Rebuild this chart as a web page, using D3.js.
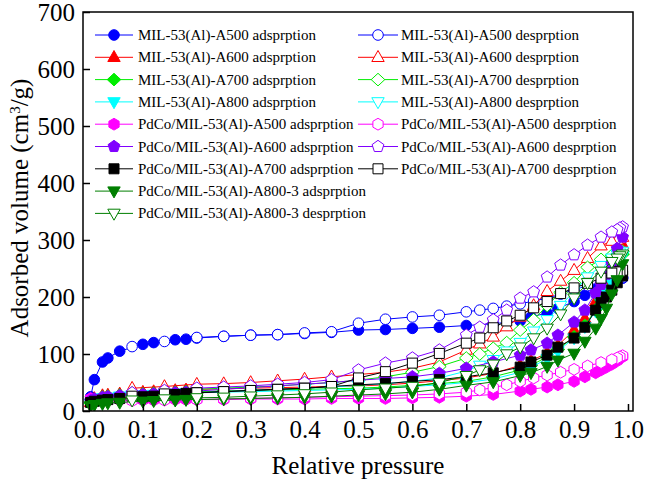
<!DOCTYPE html>
<html><head><meta charset="utf-8">
<script src="https://cdn.jsdelivr.net/npm/d3@7"></script>
<style>html,body{margin:0;padding:0;background:#fff;}svg{display:block;}
svg text{font-family:"Liberation Serif","Tinos","Times New Roman","DejaVu Serif",serif;}</style>
</head><body><div id="chart"></div>
<script>
// ---------------- data ----------------
const xTicks = [0.0, 0.1, 0.2, 0.3, 0.4, 0.5, 0.6, 0.7, 0.8, 0.9, 1.0];
const yTicks = [0, 100, 200, 300, 400, 500, 600, 700];

const pAds = [0.003, 0.01, 0.025, 0.035, 0.057, 0.1, 0.12, 0.16, 0.18, 0.2, 0.25, 0.3, 0.35, 0.4, 0.45,
  0.5, 0.55, 0.6, 0.65, 0.7, 0.75, 0.8, 0.82, 0.85, 0.87, 0.9, 0.92, 0.94, 0.95, 0.96, 0.97, 0.98, 0.99];
const pDes = [0.99, 0.985, 0.98, 0.97, 0.95, 0.925, 0.9, 0.875, 0.85, 0.825, 0.8, 0.775, 0.75, 0.725, 0.7,
  0.65, 0.6, 0.55, 0.5, 0.45, 0.4, 0.35, 0.3, 0.25, 0.2, 0.14, 0.08];

const samples = ["MIL-53(Al)-A500", "MIL-53(Al)-A600", "MIL-53(Al)-A700", "MIL-53(Al)-A800",
  "PdCo/MIL-53(Al)-A500", "PdCo/MIL-53(Al)-A600", "PdCo/MIL-53(Al)-A700", "PdCo/MIL-53(Al)-A800-3"];

const adsMIL500 = [25, 55, 86, 93, 105, 117, 120, 125, 126, 128, 131, 133, 134, 136, 138,
  142, 143, 145, 147, 150, 153, 158, 165, 172, 180, 192, 203, 213, 218, 223, 227, 230, 233];
const adsMIL600 = [15, 22, 27, 28, 30, 33, 34, 36, 37, 38, 39, 40, 41, 42, 43,
  44, 46, 49, 53, 58, 66, 80, 88, 102, 115, 142, 162, 192, 208, 225, 245, 268, 292];
const adsMIL700 = [14, 20, 25, 26, 28, 30, 31, 33, 34, 34, 35, 36, 37, 38, 39,
  40, 42, 45, 48, 52, 60, 72, 80, 95, 108, 130, 150, 178, 195, 212, 230, 252, 275];
const adsMIL800 = [13, 19, 23, 24, 26, 28, 29, 31, 32, 32, 33, 34, 35, 36, 37,
  38, 40, 43, 46, 50, 56, 68, 76, 92, 105, 128, 148, 175, 190, 208, 225, 248, 272];
const adsPd500 = [22, 20, 19, 19, 19, 19, 19, 20, 20, 20, 20, 21, 21, 21, 22,
  22, 22, 23, 24, 26, 29, 35, 38, 42, 46, 52, 60, 67, 72, 77, 82, 88, 95];
const adsPd600 = [18, 21, 24, 25, 27, 29, 30, 32, 33, 35, 38, 41, 44, 47, 50,
  54, 57, 60, 66, 75, 86, 98, 107, 119, 133, 156, 177, 207, 222, 240, 258, 285, 305];
const adsPd700 = [15, 17, 19, 20, 22, 25, 26, 29, 31, 32, 34, 36, 38, 40, 43,
  46, 48, 52, 55, 60, 67, 77, 86, 98, 112, 128, 147, 177, 190, 200, 212, 225, 237];
const adsPd800 = [9, 11, 13, 14, 15, 17, 18, 19, 20, 20, 21, 22, 23, 24, 26,
  28, 30, 33, 38, 45, 51, 62, 67, 78, 89, 101, 122, 145, 162, 180, 205, 230, 258];

const desMIL500 = [234, 233, 232, 230, 226, 220, 213, 205, 198, 193, 188, 184, 180, 177, 174,
  168, 165, 161, 154, 139, 137, 134, 133, 131, 129, 122, 113];
const desMIL600 = [305, 302, 300, 298, 290, 268, 247, 228, 210, 185, 165, 148, 130, 118, 107,
  86, 75, 68, 64, 60, 56, 53, 50, 48, 47, 43, 40];
const desMIL700 = [280, 278, 276, 273, 266, 252, 225, 208, 185, 160, 142, 120, 110, 100, 93,
  78, 68, 60, 54, 50, 47, 44, 42, 40, 38, 35, 32];
const desMIL800 = [280, 277, 274, 268, 255, 235, 210, 185, 160, 140, 120, 105, 90, 80, 70,
  58, 52, 48, 45, 42, 40, 38, 36, 34, 32, 30, 28];
const desPd500 = [97, 95, 93, 90, 85, 79, 73, 68, 63, 58, 52, 46, 41, 37, 33,
  30, 28, 27, 26, 25, 24, 23, 22, 21, 20, 19, 18];
const desPd600 = [323, 321, 318, 314, 305, 291, 274, 256, 235, 209, 198, 177, 160, 147, 133,
  107, 93, 84, 72, 55, 50, 47, 44, 42, 40, 36, 32];
const desPd700 = [247, 245, 244, 242, 233, 224, 216, 206, 192, 181, 168, 158, 146, 128, 119,
  101, 84, 69, 58, 43, 40, 38, 36, 34, 32, 30, 26];
const desPd800 = [275, 272, 268, 262, 245, 225, 198, 170, 145, 128, 112, 100, 82, 72, 62,
  50, 43, 40, 37, 33, 30, 28, 26, 24, 23, 21, 19];

const adsValues = [adsMIL500, adsMIL600, adsMIL700, adsMIL800, adsPd500, adsPd600, adsPd700, adsPd800];
const desValues = [desMIL500, desMIL600, desMIL700, desMIL800, desPd500, desPd600, desPd700, desPd800];
const colors = ["#0000ff", "#ff0000", "#00ee00", "#00ffff", "#ff00ff", "#8000ff", "#000000", "#007f00"];
const shapes = ["circle", "triUp", "diamond", "triDown", "hexagon", "pentagon", "square", "triDown"];

// ---------------- layout ----------------
const W = 645, H = 482;
const L = 83, R = 633, T = 12, B = 411;

const svg = d3.select("#chart").append("svg").attr("width", W).attr("height", H);
const x = d3.scaleLinear().domain([-0.0111, 1.0093]).range([L, R]);
const y = d3.scaleLinear().domain([0, 700]).range([B, T]);

function poly(n, r, rot) {
  const pts = [];
  for (let i = 0; i < n; i++) {
    const a = rot + i * 2 * Math.PI / n;
    pts.push([r * Math.cos(a), r * Math.sin(a)]);
  }
  return "M" + pts.map(p => p[0].toFixed(2) + "," + p[1].toFixed(2)).join("L") + "Z";
}
function shapePath(s) {
  switch (s) {
    case "circle": return "M5.3,0A5.3,5.3 0 1,1 -5.3,0A5.3,5.3 0 1,1 5.3,0Z";
    case "triUp": return "M0,-6.8L6.2,4.2L-6.2,4.2Z";
    case "triDown": return "M0,6.8L6.2,-4.2L-6.2,-4.2Z";
    case "diamond": return "M0,-6.3L6.8,0L0,6.3L-6.8,0Z";
    case "square": return "M-5,-5L5,-5L5,5L-5,5Z";
    case "pentagon": return poly(5, 6.2, -Math.PI / 2);
    case "hexagon": return poly(6, 5.9, -Math.PI / 2);
  }
}

svg.append("clipPath").attr("id", "clip").append("rect")
  .attr("x", L).attr("y", T).attr("width", R - L).attr("height", B - T);

const plot = svg.append("g").attr("clip-path", "url(#clip)");
const line = d3.line().x(d => x(d[0])).y(d => y(d[1]));

samples.forEach((name, i) => {
  const ads = pAds.map((p, k) => [p, adsValues[i][k]]);
  const des = pDes.map((p, k) => [p, desValues[i][k]]);
  [[ads, true], [des, false]].forEach(([data, filled]) => {
    const g = plot.append("g");
    g.append("path").datum(data).attr("d", line)
      .attr("fill", "none").attr("stroke", colors[i]).attr("stroke-width", 1);
    g.selectAll("path.m").data(data).enter().append("path").attr("class", "m")
      .attr("d", shapePath(shapes[i]))
      .attr("transform", d => `translate(${x(d[0])},${y(d[1])})`)
      .attr("fill", filled ? colors[i] : "#fff")
      .attr("stroke", colors[i]).attr("stroke-width", 1);
  });
});

// axes
const xAxis = svg.append("g").attr("transform", `translate(0,${B})`)
  .call(d3.axisBottom(x).tickValues(xTicks).tickSize(-7).tickPadding(9).tickFormat(d3.format(".1f")));
const yAxis = svg.append("g").attr("transform", `translate(${L},0)`)
  .call(d3.axisLeft(y).tickValues(yTicks).tickSize(-7).tickPadding(8).tickFormat(d3.format("d")));
[xAxis, yAxis].forEach(a => {
  a.attr("font-family", null).attr("font-size", null);
  a.select(".domain").remove();
  a.selectAll(".tick line").attr("stroke", "#000").attr("stroke-width", 1.5);
  a.selectAll(".tick text").attr("fill", "#000").style("font-size", "25px");
});
yAxis.selectAll(".tick text").attr("dy", "0.34em");

svg.append("rect").attr("x", L).attr("y", T).attr("width", R - L).attr("height", B - T)
  .attr("fill", "none").attr("stroke", "#000").attr("stroke-width", 1.5);

// axis titles
svg.append("text").attr("x", 358).attr("y", 474).attr("text-anchor", "middle")
  .style("font-size", "25px").text("Relative pressure");
const yt = svg.append("text").attr("transform", "translate(28,208) rotate(-90)")
  .attr("text-anchor", "middle").style("font-size", "25px");
yt.append("tspan").text("Adsorbed volume (cm");
yt.append("tspan").attr("baseline-shift", "super").style("font-size", "15px").text("3");
yt.append("tspan").text("/g)");

// legend
const legend = svg.append("g");
const rowY = k => 35 + k * 22.3;
const entries = [];
samples.forEach((name, i) => entries.push({ name: name + " adsprption", i, filled: true, col: 0, row: i }));
samples.slice(0, 7).forEach((name, i) => entries.push({ name: name + " desprption", i, filled: false, col: 1, row: i }));
entries.push({ name: samples[7] + " desprption", i: 7, filled: false, col: 0, row: 8 });
entries.forEach(e => {
  const x0 = e.col === 0 ? 95 : 358, x1 = e.col === 0 ? 133 : 398, tx = e.col === 0 ? 138 : 401;
  const yy = rowY(e.row);
  legend.append("line").attr("x1", x0).attr("x2", x1).attr("y1", yy).attr("y2", yy)
    .attr("stroke", colors[e.i]).attr("stroke-width", 1);
  legend.append("path").attr("d", shapePath(shapes[e.i]))
    .attr("transform", `translate(${(x0 + x1) / 2},${yy})`)
    .attr("fill", e.filled ? colors[e.i] : "#fff").attr("stroke", colors[e.i]).attr("stroke-width", 1);
  legend.append("text").attr("x", tx).attr("y", yy + 5)
    .style("font-size", "15px").attr("fill", "#000").text(e.name);
});
</script></body></html>
